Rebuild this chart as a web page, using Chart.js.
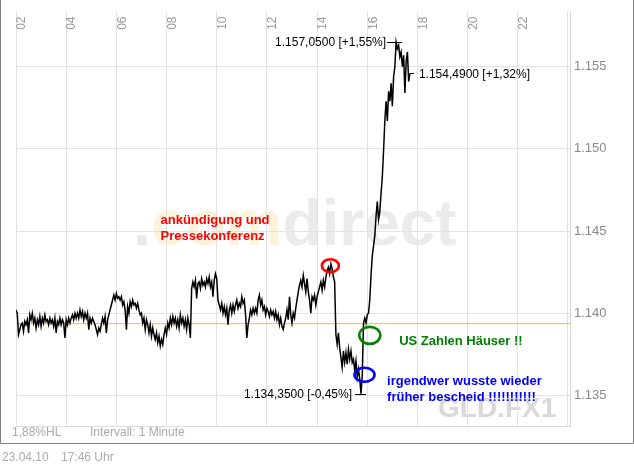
<!DOCTYPE html>
<html>
<head>
<meta charset="utf-8">
<script src="https://cdn.jsdelivr.net/npm/chart.js@4.4.0/dist/chart.umd.min.js"></script>
<style>
  html, body { margin: 0; padding: 0; background: #fff; }
  canvas { display: block; }
</style>
</head>
<body>
<canvas id="gold-chart" width="634" height="466"></canvas>
<script>
// intraday GLD.FX1, 3 minute samples starting 02:00
const startHour = 2;
const stepMinutes = 3;

const prices = [
  1.1402, 1.1400, 1.1387, 1.1390, 1.1393, 1.1394, 1.1389, 1.1395, 1.1393, 1.1396, 1.1388,
  1.1399, 1.1396, 1.1400, 1.1394, 1.1397, 1.1391, 1.1396, 1.1393, 1.1398, 1.1392,
  1.1397, 1.1394, 1.1399, 1.1395, 1.1396, 1.1393, 1.1397, 1.1394,
  1.1396, 1.1392, 1.1397, 1.1388, 1.1395, 1.1393, 1.1397, 1.1393, 1.1396, 1.1394,
  1.1385, 1.1396, 1.1393, 1.1397, 1.1394, 1.1397, 1.1399, 1.1396, 1.1400, 1.1397,
  1.1400, 1.1397, 1.1402, 1.1398, 1.1401, 1.1396, 1.1400, 1.1397, 1.1400,
  1.1390, 1.1397, 1.1394, 1.1397, 1.1395,
  1.1393, 1.1390, 1.1387, 1.1391, 1.1389, 1.1393,
  1.1397, 1.1394, 1.1398, 1.1388, 1.1396, 1.1399,
  1.1402, 1.1405, 1.1408, 1.1411, 1.1408, 1.1412, 1.1409, 1.1410,
  // 06:00 - 09:30
  1.1408, 1.1410, 1.1405, 1.1407, 1.1402, 1.1390, 1.1404, 1.1400,
  1.1407, 1.1404, 1.1408, 1.1405, 1.1406, 1.1403, 1.1406, 1.1402,
  1.1399, 1.1400, 1.1394, 1.1397, 1.1390, 1.1396,
  1.1393, 1.1388, 1.1393, 1.1386, 1.1391, 1.1387,
  1.1384, 1.1388, 1.1382, 1.1386, 1.1380, 1.1384, 1.1381, 1.1387,
  1.1391, 1.1387, 1.1394, 1.1391, 1.1397, 1.1393, 1.1398, 1.1394,
  1.1397, 1.1392, 1.1396, 1.1391, 1.1399, 1.1394, 1.1397, 1.1392, 1.1396, 1.1390, 1.1397, 1.1393,
  1.1385, 1.1415, 1.1419,
  1.1416, 1.1420, 1.1409, 1.1418, 1.1419, 1.1415, 1.1421, 1.1417, 1.1419,
  1.1416, 1.1421, 1.1418, 1.1422, 1.1416, 1.1419, 1.1410, 1.1420, 1.1424, 1.1421,
  1.1408, 1.1405, 1.1402, 1.1406,
  // 10:15 - 13:30
  1.1400, 1.1404, 1.1399, 1.1403, 1.1393,
  1.1402, 1.1405, 1.1400, 1.1405, 1.1401,
  1.1405, 1.1408, 1.1403, 1.1406, 1.1404, 1.1410, 1.1406, 1.1408,
  1.1399, 1.1385, 1.1393, 1.1397,
  1.1402, 1.1399, 1.1403, 1.1400, 1.1403, 1.1400,
  1.1408, 1.1411, 1.1405, 1.1408,
  1.1402, 1.1404, 1.1399, 1.1403, 1.1401, 1.1398, 1.1402, 1.1399, 1.1401, 1.1397,
  1.1401, 1.1396, 1.1399, 1.1393, 1.1397, 1.1392, 1.1390, 1.1394,
  1.1397, 1.1402, 1.1396, 1.1410, 1.1399, 1.1394, 1.1400, 1.1397,
  1.1403, 1.1408, 1.1413, 1.1417,
  1.1420, 1.1416, 1.1423, 1.1418, 1.1413, 1.1421,
  1.1413, 1.1408, 1.1400, 1.1410,
  1.1408, 1.1411, 1.1405, 1.1410, 1.1413,
  1.1416, 1.1419, 1.1414, 1.1420, 1.1416, 1.1422,
  1.1426, 1.1428, 1.1424, 1.1430, 1.1427, 1.1422, 1.1419,
  // 14:45 - 16:00 drop
  1.1387, 1.1381, 1.1388, 1.1379, 1.1373, 1.1367, 1.1377,
  1.1370, 1.1376, 1.1369, 1.1378, 1.1372, 1.1377,
  1.1370, 1.1372, 1.1365, 1.1371, 1.1361, 1.1366, 1.1360,
  1.1351, 1.1362,
  1.1394, 1.1397, 1.1394, 1.1399, 1.1400, 1.1408,
  // after US data
  1.1423, 1.1435, 1.1441, 1.1447, 1.1459, 1.1468, 1.1457, 1.1462, 1.1473, 1.1483,
  1.1499, 1.1517, 1.1529, 1.1517, 1.1535, 1.1529, 1.1540, 1.1526, 1.1544, 1.1550,
  1.1565, 1.1561, 1.1563, 1.1556, 1.1559, 1.1550, 1.1557, 1.1534, 1.1553, 1.1559,
  1.1541, 1.1546
];

const prevClose = 1.13936;

const xTicks = [2, 4, 6, 8, 10, 12, 14, 16, 18, 20, 22, 24];
const xTickLabels = ['02', '04', '06', '08', '10', '12', '14', '16', '18', '20', '22', ''];
const yTicks = [1.135, 1.140, 1.145, 1.150, 1.155];
const yTickLabels = ['1.135', '1.140', '1.145', '1.150', '1.155'];

const highLabel = '1.157,0500 [+1,55%]';
const lowLabel = '1.134,3500 [-0,45%]';
const lastLabel = '1.154,4900 [+1,32%]';

// hand drawn notes (anchored at hour / price)
const noteTexts = [['ankündigung und', 'Pressekonferenz'], ['US Zahlen Häuser !!'], ['irgendwer wusste wieder', 'früher bescheid !!!!!!!!!!!']];
const noteColors = ['#ff0000', '#008000', '#0000ff'];
const noteHours = [7.76, 17.27, 16.79];
const notePrices = [1.14562, 1.13830, 1.13586];

const ringHours = [14.53, 16.10, 15.89];
const ringPrices = [1.14289, 1.13865, 1.13625];
const ringColors = ['#ff0000', '#0a800a', '#0000ff'];

const FONT = "'Liberation Sans', Arial, sans-serif";

const points = prices.map((p, i) => ({ x: startHour + i * stepMinutes / 60, y: p }));

const decorations = {
  id: 'decorations',
  beforeDraw(chart) {
    const ctx = chart.ctx;
    ctx.save();
    // comdirect watermark
    ctx.font = 'bold 64px ' + FONT;
    ctx.textBaseline = 'alphabetic';
    ctx.textAlign = 'left';
    let x = 133;
    ctx.fillStyle = '#e8e8e8';
    ctx.fillText('.', x, 245);
    x += ctx.measureText('.').width;
    ctx.fillStyle = '#fdf3dc';
    ctx.fillText('com', x, 245);
    x += ctx.measureText('com').width;
    ctx.fillStyle = '#ebebeb';
    ctx.fillText('direct', x, 245);
    // symbol
    ctx.font = 'bold 28px ' + FONT;
    ctx.fillStyle = '#d9d9d9';
    ctx.fillText('GLD.FX1', 438, 417);
    ctx.restore();
  },
  beforeDatasetsDraw(chart) {
    const { ctx, chartArea } = chart;
    const xs = chart.scales.x;
    ctx.save();
    ctx.strokeStyle = '#dedede';
    ctx.lineWidth = 1;
    ctx.beginPath();
    ctx.moveTo(chartArea.left, Math.round(chartArea.bottom) + 0.5);
    ctx.lineTo(chartArea.right, Math.round(chartArea.bottom) + 0.5);
    ctx.stroke();
    // x labels inside the plot, rotated
    ctx.fillStyle = '#9a9a9a';
    ctx.font = '12px ' + FONT;
    xTicks.forEach((v, i) => {
      if (!xTickLabels[i]) return;
      const px = xs.getPixelForValue(v);
      ctx.save();
      ctx.translate(px + 6, chartArea.top + 18);
      ctx.rotate(-Math.PI / 2);
      ctx.textAlign = 'left';
      ctx.textBaseline = 'middle';
      ctx.fillText(xTickLabels[i], 0, 0);
      ctx.restore();
    });
    ctx.restore();
  },
  afterDatasetsDraw(chart) {
    const ctx = chart.ctx;
    const xs = chart.scales.x, ys = chart.scales.y;
    const els = chart.getDatasetMeta(0).data;
    let hi = 0, lo = 0;
    prices.forEach((p, i) => {
      if (p > prices[hi]) hi = i;
      if (p < prices[lo]) lo = i;
    });
    ctx.save();
    ctx.strokeStyle = '#000';
    ctx.fillStyle = '#000';
    ctx.lineWidth = 1;
    ctx.font = '12px ' + FONT;
    ctx.textBaseline = 'middle';

    const h = els[hi], l = els[lo], last = els[els.length - 1];
    const hy = Math.round(h.y) + 0.5, ly = Math.round(l.y) + 0.5, lasty = Math.round(last.y) + 0.5;
    ctx.beginPath();
    ctx.moveTo(h.x - 9, hy); ctx.lineTo(h.x + 6, hy);
    ctx.moveTo(l.x - 6, ly); ctx.lineTo(l.x + 5, ly);
    ctx.moveTo(last.x, lasty); ctx.lineTo(last.x + 4, lasty);
    ctx.stroke();
    ctx.textAlign = 'right';
    ctx.fillText(highLabel, h.x - 10, hy);
    ctx.fillText(lowLabel, l.x - 9, ly);
    ctx.textAlign = 'left';
    ctx.fillText(lastLabel, last.x + 9, lasty + 1);

    // rings
    ctx.lineWidth = 2.6;
    ringHours.forEach((hr, i) => {
      const cx = xs.getPixelForValue(hr), cy = ys.getPixelForValue(ringPrices[i]);
      const rx = [8.5, 10.5, 10][i], ry = [6.5, 8.5, 7][i];
      ctx.strokeStyle = ringColors[i];
      ctx.beginPath();
      ctx.ellipse(cx, cy, rx, ry, 0, 0, Math.PI * 2);
      ctx.stroke();
    });

    // notes
    ctx.font = 'bold 13px ' + FONT;
    ctx.textAlign = 'left';
    noteTexts.forEach((lines, i) => {
      const nx = xs.getPixelForValue(noteHours[i]), ny = ys.getPixelForValue(notePrices[i]);
      ctx.fillStyle = noteColors[i];
      lines.forEach((t, k) => ctx.fillText(t, nx, ny + k * 16));
    });
    ctx.restore();
  },
  afterDraw(chart) {
    const ctx = chart.ctx;
    ctx.save();
    // outer frame (no top edge)
    ctx.strokeStyle = '#808080';
    ctx.lineWidth = 1;
    ctx.beginPath();
    ctx.moveTo(0.5, 0); ctx.lineTo(0.5, 443.5);
    ctx.lineTo(633.5, 443.5); ctx.lineTo(633.5, 0);
    ctx.stroke();
    // footer
    ctx.fillStyle = '#aaaaaa';
    ctx.font = '12px ' + FONT;
    ctx.textBaseline = 'middle';
    ctx.textAlign = 'left';
    ctx.fillText('1,88%HL', 12, 433);
    ctx.fillText('Intervall: 1 Minute', 90, 433);
    ctx.fillText('23.04.10', 2, 458);
    ctx.fillText('17:46 Uhr', 61, 458);
    ctx.restore();
  }
};

new Chart(document.getElementById('gold-chart'), {
  type: 'line',
  data: {
    datasets: [
      {
        data: points,
        borderColor: '#000',
        borderWidth: 1.5,
        pointRadius: 0,
        tension: 0,
        order: 0
      },
      {
        data: [{ x: 2, y: prevClose }, { x: 24.08, y: prevClose }],
        borderColor: '#f2c12e',
        borderWidth: 1,
        pointRadius: 0,
        order: 1
      }
    ]
  },
  options: {
    responsive: false,
    animation: false,
    devicePixelRatio: 1,
    layout: { padding: { left: 16, top: 10, right: 0, bottom: 40 } },
    plugins: { legend: { display: false }, tooltip: { enabled: false } },
    scales: {
      x: {
        type: 'linear',
        position: 'top',
        min: 2,
        max: 24.08,
        afterBuildTicks: (s) => { s.ticks = xTicks.map(v => ({ value: v })); },
        afterFit: (s) => { s.height = 0; },
        ticks: { display: false },
        grid: { color: '#e3e3e3', drawTicks: false },
        border: { display: false }
      },
      y: {
        type: 'linear',
        position: 'right',
        min: 1.133133,
        max: 1.158345,
        afterBuildTicks: (s) => { s.ticks = yTicks.map(v => ({ value: v })); },
        afterFit: (s) => { s.width = 64; },
        ticks: {
          color: '#8a8a8a',
          font: { family: FONT, size: 13 },
          padding: 4,
          callback: (v, i) => yTickLabels[i]
        },
        grid: { color: '#e3e3e3', drawTicks: false },
        border: { display: true, color: '#d6d6d6' }
      }
    }
  },
  plugins: [decorations]
});
</script>
</body>
</html>
